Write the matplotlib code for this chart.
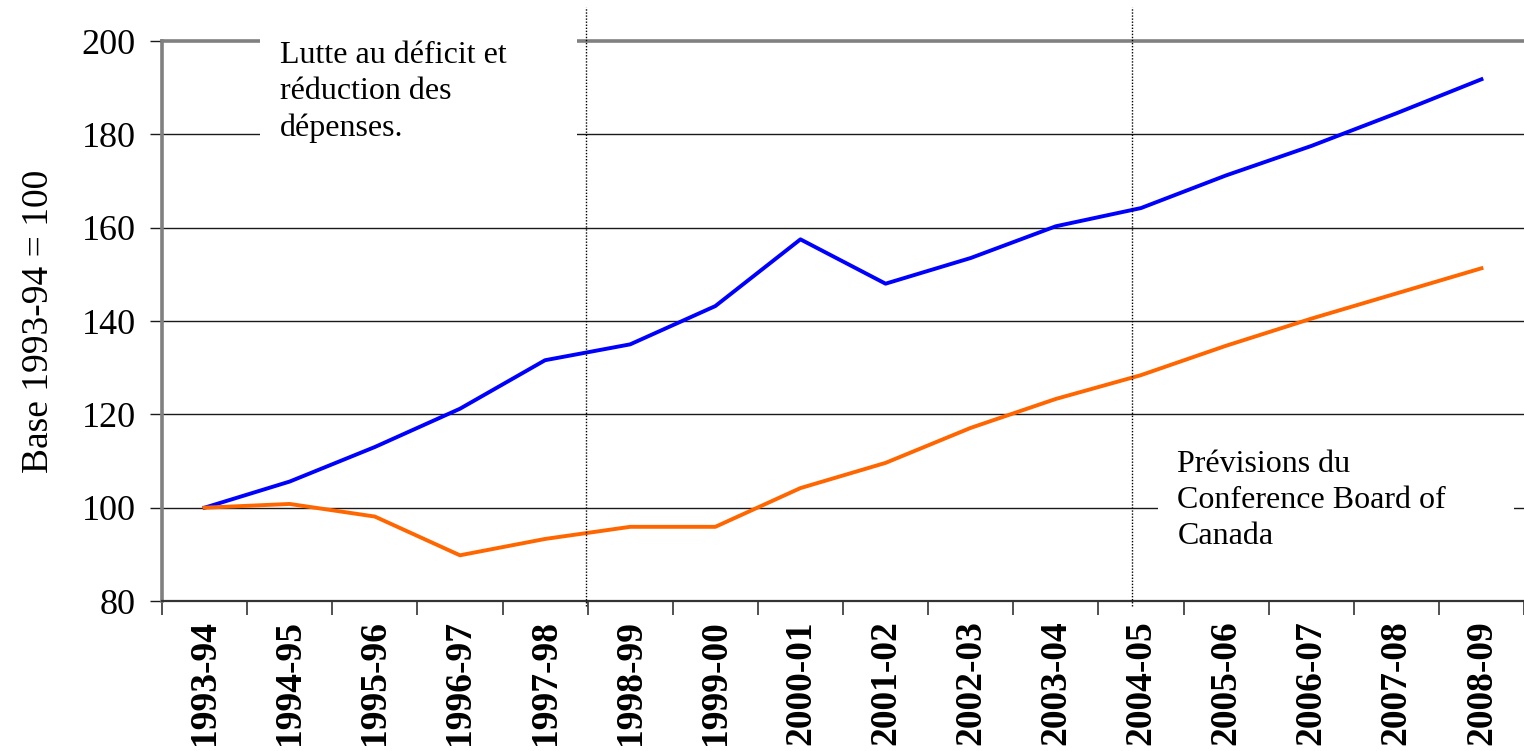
import matplotlib.pyplot as plt
from matplotlib.patches import Rectangle

periodes = ["1993-94", "1994-95", "1995-96", "1996-97", "1997-98", "1998-99",
            "1999-00", "2000-01", "2001-02", "2002-03", "2003-04", "2004-05",
            "2005-06", "2006-07", "2007-08", "2008-09"]
serie_bleue = [100, 105.6, 113.0, 121.2, 131.6, 135.0, 143.2, 157.5, 148.0,
               153.5, 160.3, 164.2, 171.2, 177.5, 184.5, 191.8]
serie_orange = [100, 100.8, 98.1, 89.8, 93.3, 95.9, 95.9, 104.2, 109.6,
                117.1, 123.3, 128.4, 134.7, 140.5, 145.9, 151.3]
yticks = [80, 100, 120, 140, 160, 180, 200]

plt.rcParams["font.family"] = ["Liberation Serif", "DejaVu Serif"]

fig = plt.figure(figsize=(15.24, 7.51), dpi=100)
ax = fig.add_axes([0.1063, 0.1997, 0.8937, 0.7457])

x = list(range(len(periodes)))

# grille horizontale
for v in yticks[1:-1]:
    ax.axhline(v, color="#1a1a1a", lw=1.0, zorder=1)
ax.axhline(200, color="#808080", lw=2.6, zorder=1, clip_on=False)

ax.plot(x, serie_bleue, color="#0000ff", lw=2.8, zorder=3)
ax.plot(x, serie_orange, color="#ff6600", lw=2.8, zorder=3)

# lignes pointillées verticales
for xv in (4.48, 10.9):
    ax.axvline(xv, ymin=-0.008, ymax=1.06, color="black", lw=1.0,
               linestyle=(0, (1, 1.2)), clip_on=False, zorder=4)

# boîtes blanches sous les annotations
ax.add_patch(Rectangle((0.072, 0.805), 0.233, 0.215, transform=ax.transAxes,
                       facecolor="white", edgecolor="none", zorder=2.8, clip_on=False))
ax.add_patch(Rectangle((0.731, 0.075), 0.262, 0.205, transform=ax.transAxes,
                       facecolor="white", edgecolor="none", zorder=2.8, clip_on=False))

ax.text(0.0866, 1.0, "Lutte au déficit et\nréduction des\ndépenses.",
        transform=ax.transAxes, fontsize=23, va="top", ha="left",
        linespacing=1.33, zorder=5)
ax.text(0.7455, 0.27, "Prévisions du\nConference Board of\nCanada",
        transform=ax.transAxes, fontsize=23, va="top", ha="left",
        linespacing=1.33, zorder=5)

ax.set_xlim(-0.5, len(periodes) - 0.5)
ax.set_ylim(80, 200)
ax.set_yticks(yticks)
ax.set_yticklabels([str(v) for v in yticks], fontsize=26)
ax.tick_params(axis="y", length=9, width=1.0, pad=10, color="#1a1a1a")

# étiquettes x au centre, graduations aux frontières
ax.set_xticks(x)
ax.set_xticklabels(periodes, rotation=90, fontsize=27, fontweight="bold")
ax.tick_params(axis="x", which="major", length=0, pad=14)
ax.set_xticks([i - 0.5 for i in range(len(periodes) + 1)], minor=True)
ax.tick_params(axis="x", which="minor", length=10, width=1.2, color="#333333")

ax.set_ylabel("Base 1993-94 = 100", fontsize=27, labelpad=18)

ax.spines["top"].set_visible(False)
ax.spines["right"].set_visible(False)
ax.spines["left"].set_color("#808080")
ax.spines["left"].set_linewidth(2.6)
ax.spines["bottom"].set_color("#333333")
ax.spines["bottom"].set_linewidth(1.6)

fig.savefig("out.png", dpi=100)
